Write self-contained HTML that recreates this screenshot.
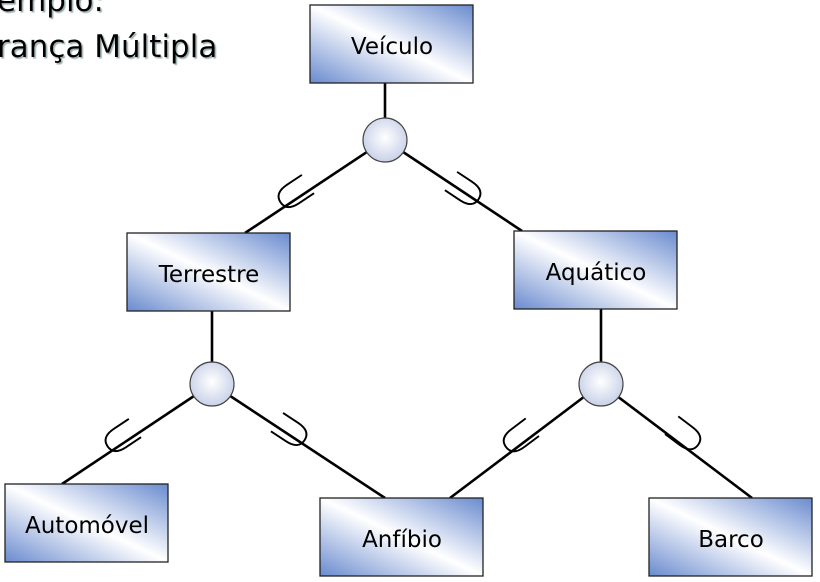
<!DOCTYPE html>
<html><head><meta charset="utf-8"><style>body{margin:0;background:#fff}svg{display:block}</style></head>
<body>
<svg width="820" height="582" viewBox="0 0 820 582" xmlns="http://www.w3.org/2000/svg">
<defs>
<linearGradient id="g" x1="0" y1="1" x2="1" y2="0">
<stop offset="0" stop-color="#6a8bcf"/><stop offset="0.5" stop-color="#ffffff"/><stop offset="1" stop-color="#6a8bcf"/>
</linearGradient>
<radialGradient id="c" cx="0.5" cy="0.45" r="0.6">
<stop offset="0" stop-color="#ffffff"/><stop offset="1" stop-color="#c3cde6"/>
</radialGradient>
<filter id="sh"><feDropShadow dx="1.5" dy="1.5" stdDeviation="0.6" flood-color="#9aa"/></filter>
</defs>
<g font-family="DejaVu Sans, sans-serif" font-size="31" fill="#000" filter="url(#sh)">
<text x="-3" y="11">emplo:</text>
<text x="-3" y="57">rança Múltipla</text>
</g>
<g stroke="#000" stroke-width="2.6" fill="none">
<line x1="385" y1="83" x2="385" y2="140"/>
<line x1="385" y1="140" x2="245" y2="233"/>
<line x1="385" y1="140" x2="522" y2="231"/>
<line x1="212" y1="311" x2="212" y2="384"/>
<line x1="212" y1="384" x2="62" y2="484"/>
<line x1="212" y1="384" x2="385" y2="498"/>
<line x1="601" y1="309" x2="601" y2="384"/>
<line x1="601" y1="384" x2="450" y2="498"/>
<line x1="601" y1="384" x2="752" y2="498"/>
</g>
<g stroke="#000" stroke-width="1.9" fill="none">
<path d="M -18,-11 L 0,-11 Q 15,-11 15,0 Q 15,11 0,11 L -18,11" transform="translate(293,194) rotate(146.4)"/>
<path d="M -18,-11 L 0,-11 Q 15,-11 15,0 Q 15,11 0,11 L -18,11" transform="translate(466,191) rotate(33.6)"/>
<path d="M -18,-11 L 0,-11 Q 15,-11 15,0 Q 15,11 0,11 L -18,11" transform="translate(120,438) rotate(146.3)"/>
<path d="M -18,-11 L 0,-11 Q 15,-11 15,0 Q 15,11 0,11 L -18,11" transform="translate(292,432) rotate(33.4)"/>
<path d="M -18,-11 L 0,-11 Q 15,-11 15,0 Q 15,11 0,11 L -18,11" transform="translate(518,438) rotate(143)"/>
<path d="M -18,-11 L 0,-11 Q 15,-11 15,0 Q 15,11 0,11 L -18,11" transform="translate(686,436) rotate(37)"/>
</g>
<g stroke="#444" stroke-width="1.2" fill="url(#c)">
<circle cx="385" cy="140" r="22"/>
<circle cx="212" cy="384" r="22"/>
<circle cx="601" cy="384" r="22"/>
</g>
<g stroke="#222" stroke-width="1.3" fill="url(#g)">
<rect x="310" y="5" width="163" height="78"/>
<rect x="127" y="233" width="163" height="78"/>
<rect x="514" y="231" width="163" height="78"/>
<rect x="5" y="484" width="163" height="78"/>
<rect x="320" y="498" width="163" height="78"/>
<rect x="649" y="498" width="163" height="78"/>
</g>
<g font-family="DejaVu Sans, sans-serif" font-size="23" fill="#000" text-anchor="middle">
<text x="392" y="54">Veículo</text>
<text x="209" y="282">Terrestre</text>
<text x="596" y="280">Aquático</text>
<text x="87" y="533">Automóvel</text>
<text x="402" y="547">Anfíbio</text>
<text x="731" y="547">Barco</text>
</g>
</svg>
</body></html>
